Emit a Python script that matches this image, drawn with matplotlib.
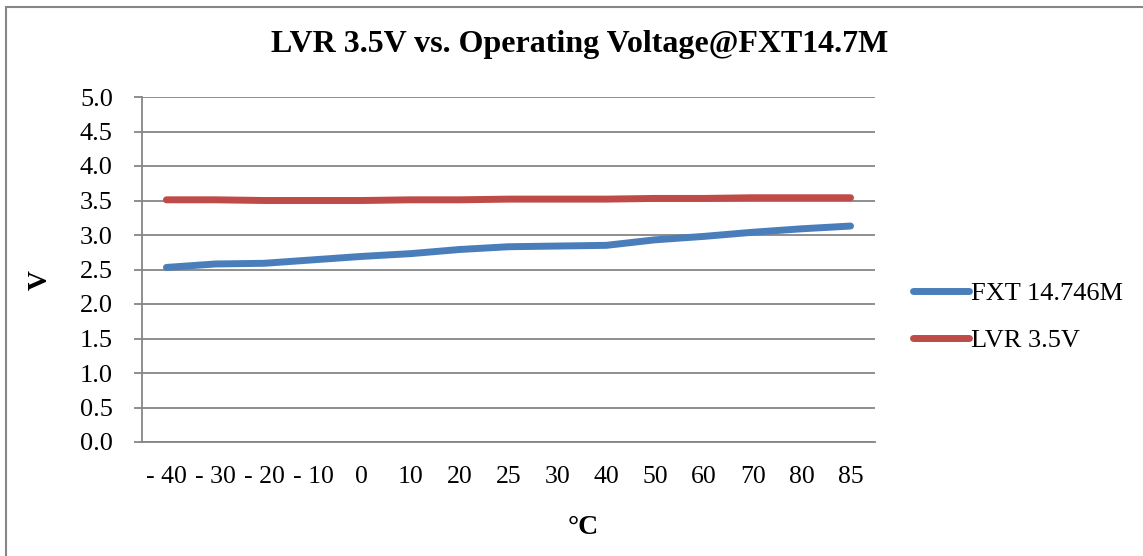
import matplotlib
matplotlib.use("Agg")
import matplotlib.pyplot as plt
from matplotlib.patches import Rectangle

# Data
temperatures = ["- 40", "- 30", "- 20", "- 10", "0", "10", "20", "25",
                "30", "40", "50", "60", "70", "80", "85"]
fxt_14746m = [2.53, 2.58, 2.59, 2.64, 2.69, 2.73, 2.79, 2.83,
              2.84, 2.85, 2.93, 2.98, 3.04, 3.09, 3.13]
lvr_35v = [3.51, 3.51, 3.50, 3.50, 3.50, 3.51, 3.51, 3.52,
           3.52, 3.52, 3.53, 3.53, 3.54, 3.54, 3.54]
y_ticks = [0.0, 0.5, 1.0, 1.5, 2.0, 2.5, 3.0, 3.5, 4.0, 4.5, 5.0]

plt.rcParams["font.family"] = ["Liberation Serif", "DejaVu Serif"]

W, H = 1143, 556
fig = plt.figure(figsize=(W / 100, H / 100), dpi=100)

# Outer chart frame
fig.patches.append(Rectangle((6 / W, -0.05), 1.2, 1 - 7 / H + 0.05,
                             transform=fig.transFigure, fill=False,
                             edgecolor="#868686", linewidth=1.5))

ax = fig.add_axes([142 / W, 1 - 442 / H, (875 - 142) / W, (442 - 97) / H])

x = list(range(len(temperatures)))
ax.plot(x, fxt_14746m, color="#4a7ebb", linewidth=5, solid_capstyle="round",
        label="FXT 14.746M")
ax.plot(x, lvr_35v, color="#be4b48", linewidth=5, solid_capstyle="round",
        label="LVR 3.5V")

ax.set_xlim(-0.5, len(temperatures) - 0.5)
ax.set_ylim(0, 5.0)
ax.set_yticks(y_ticks)
ax.set_yticklabels([f"{v:.1f}" for v in y_ticks])
ax.set_xticks(x)
ax.set_xticklabels(temperatures)

ax.grid(axis="y", color="#868686", linewidth=1.3)
ax.set_axisbelow(True)
for side in ("top", "right"):
    ax.spines[side].set_visible(False)
for side in ("left", "bottom"):
    ax.spines[side].set_color("#868686")
    ax.spines[side].set_linewidth(1.3)

ax.tick_params(axis="y", direction="out", length=6, width=1.3, color="#868686",
               labelsize=19, pad=15)
ax.tick_params(axis="x", length=0, labelsize=18.5, pad=17)

fig.text(580 / W, 1 - 45 / H, "LVR 3.5V vs. Operating Voltage@FXT14.7M",
         fontsize=23, fontweight="bold", ha="center", va="center")
fig.text(583 / W, 1 - 527 / H, "°C", fontsize=20, fontweight="bold",
         ha="center", va="center")
fig.text(40 / W, 1 - 280 / H, "V", fontsize=20, fontweight="bold",
         ha="center", va="center", rotation=90)

ax.legend(loc="center left", bbox_to_anchor=(1.02, 0.362), frameon=False,
          fontsize=19, handlelength=2.1, handletextpad=0.1, labelspacing=0.9)

fig.savefig("out.png", dpi=100)
